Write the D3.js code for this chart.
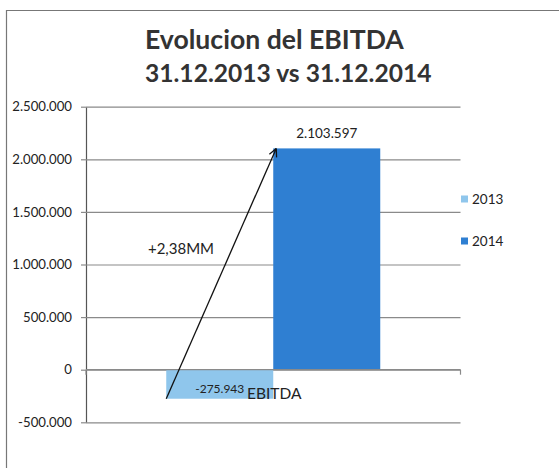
<!DOCTYPE html>
<html>
<head>
<meta charset="utf-8">
<script src="https://cdn.jsdelivr.net/npm/d3@7"></script>
<style>
  body { margin: 0; background: #fff; }
  text { font-family: Lato, "Open Sans", sans-serif; fill: #222; }
</style>
</head>
<body>
<svg id="chart" width="559" height="468"></svg>
<script>
// chart data
const categories = ['EBITDA']
const series = ['2013', '2014']
const values = [-275943, 2103597]
const colors = ['#8fc6ec', '#2f7fd2']
const yTicks = [-500000, 0, 500000, 1000000, 1500000, 2000000, 2500000]
const titleLines = ['Evolucion del EBITDA', '31.12.2013 vs 31.12.2014']
const arrowLabel = '+2,38MM'

const svg = d3.select('#chart')

// number format with dots as thousands separator
const locale = d3.formatLocale({decimal: ',', thousands: '.', grouping: [3], currency: ['', ''], minus: '-'})
const fmt = locale.format(',d')

const plot = {left: 86, right: 460.5, top: 106.7, bottom: 422.3}

const y = d3.scaleLinear()
  .domain([d3.min(yTicks), d3.max(yTicks)])
  .range([plot.bottom, plot.top])

// excel style gap width 75%
const x = d3.scaleBand()
  .domain(categories)
  .range([plot.left, plot.right])
  .paddingInner(0)
  .paddingOuter(0.375)

const xs = d3.scaleBand()
  .domain(series)
  .range([0, x.bandwidth()])
  .padding(0)

// chart area border (only top and left visible in the crop)
svg.append('path')
  .attr('d', 'M6.5,470 L6.5,10.5 L560,10.5')
  .attr('fill', 'none')
  .attr('stroke', '#777')
  .attr('stroke-width', 1.2)

// title
svg.append('g').selectAll('text')
  .data(titleLines)
  .enter()
  .append('text')
    .attr('x', 145)
    .attr('y', (d, i) => 49 + i * 33)
    .attr('font-size', (d, i) => i ? 24.6 : 26.6)
    .attr('font-weight', 'bold')
    .style('fill', '#333')
    .text(d => d)

// y axis with gridlines
const yAxis = d3.axisLeft(y)
  .tickValues(yTicks)
  .tickSize(-(plot.right - plot.left))
  .tickSizeOuter(0)
  .tickPadding(14)
  .tickFormat(fmt)

const gy = svg.append('g')
  .attr('transform', `translate(${plot.left},0)`)
  .call(yAxis)
gy.select('.domain').attr('stroke', '#555').attr('stroke-width', 1.2)
gy.selectAll('.tick line').attr('stroke', '#8a8a8a').attr('stroke-width', 1.2)
gy.selectAll('.tick')
  .append('line')
    .attr('x1', -5).attr('x2', 0)
    .attr('stroke', '#8a8a8a').attr('stroke-width', 1.2)
gy.selectAll('.tick text')
  .attr('font-size', 13.2)
  .style('font-family', 'Lato, sans-serif')
  .style('fill', '#222')

// bars
const bars = svg.append('g')
bars.selectAll('rect')
  .data(values)
  .enter()
  .append('rect')
    .attr('x', (d, i) => x(categories[0]) + xs(series[i]))
    .attr('width', xs.bandwidth())
    .attr('y', d => y(Math.max(0, d)))
    .attr('height', d => Math.abs(y(d) - y(0)))
    .attr('fill', (d, i) => colors[i])

// category axis along zero
svg.append('line')
  .attr('x1', plot.left).attr('x2', plot.right)
  .attr('y1', y(0)).attr('y2', y(0))
  .attr('stroke', '#8a8a8a').attr('stroke-width', 1.2)
svg.append('g').selectAll('line')
  .data(x.range())
  .enter()
  .append('line')
    .attr('x1', d => d).attr('x2', d => d)
    .attr('y1', y(0)).attr('y2', y(0) + 5)
    .attr('stroke', '#8a8a8a').attr('stroke-width', 1.2)

// data labels
svg.append('g').selectAll('text')
  .data(values)
  .enter()
  .append('text')
    .attr('x', (d, i) => x(categories[0]) + xs(series[i]) + xs.bandwidth() / 2)
    .attr('y', d => d < 0 ? y(d) - 6 : y(d) - 10)
    .attr('text-anchor', 'middle')
    .attr('font-size', d => d < 0 ? 12 : 13.5)
    .text(d => fmt(d))

// category label
svg.append('text')
  .attr('x', x(categories[0]) + x.bandwidth() / 2 + 1)
  .attr('y', y(0) + 29)
  .attr('text-anchor', 'middle')
  .attr('font-size', 15.5)
  .text(categories[0])

// arrow from 2013 value to 2014 value
const ax1 = x(categories[0]) + xs(series[0])
const ay1 = y(values[0])
const ax2 = x(categories[0]) + xs(series[1]) + 3
const ay2 = y(values[1])
const ang = Math.atan2(ay2 - ay1, ax2 - ax1)
const head = 9
svg.append('line')
  .attr('x1', ax1).attr('y1', ay1)
  .attr('x2', ax2).attr('y2', ay2)
  .attr('stroke', '#111').attr('stroke-width', 1.3)
svg.append('path')
  .attr('d', [-0.45, 0.45].map(a =>
      `M${ax2},${ay2} L${ax2 - head * Math.cos(ang + a)},${ay2 - head * Math.sin(ang + a)}`).join(' '))
  .attr('fill', 'none')
  .attr('stroke', '#111').attr('stroke-width', 1.3)

svg.append('text')
  .attr('x', 181)
  .attr('y', 254)
  .attr('text-anchor', 'middle')
  .attr('font-size', 15)
  .text(arrowLabel)

// legend
const legend = svg.append('g').selectAll('g')
  .data(series)
  .enter()
  .append('g')
    .attr('transform', (d, i) => `translate(461,${199 + i * 42})`)
legend.append('rect')
  .attr('x', 0).attr('y', -3.5)
  .attr('width', 7).attr('height', 7)
  .attr('fill', (d, i) => colors[i])
legend.append('text')
  .attr('x', 11)
  .attr('y', 5)
  .attr('font-size', 13.5)
  .text(d => d)
</script>
</body>
</html>
